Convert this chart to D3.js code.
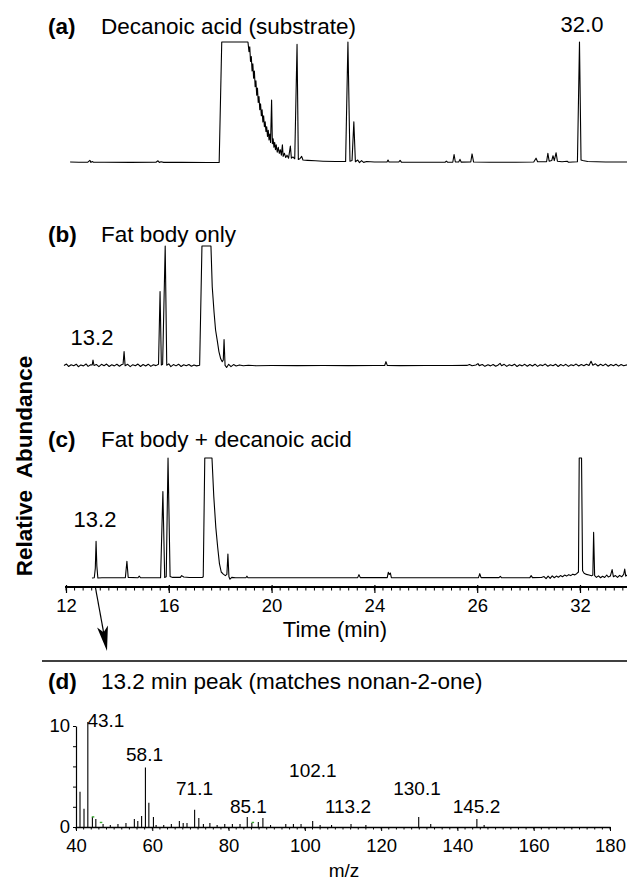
<!DOCTYPE html>
<html lang="en">
<head>
<meta charset="UTF-8">
<title>GC-MS traces: decanoic acid and fat body</title>
<script src="https://d3js.org/d3.v7.min.js"></script>
<style>
  body { margin: 0; background: #fff; }
  svg { display: block; font-family: "Liberation Sans", Arial, Helvetica, sans-serif; }
  .trace { fill: none; stroke: #000; stroke-width: 1.1; stroke-linejoin: round; }
  .title { font-size: 22.5px; }
  .tag { font-size: 22.5px; font-weight: bold; }
  .note { font-size: 22px; }
  .peak-label { font-size: 19px; }
  .axis text { font-size: 18.5px; font-family: "Liberation Sans", Arial, sans-serif; fill: #000; }
  .axis line { stroke: #000; }
</style>
</head>
<body>
<svg id="chart" width="627" height="883"></svg>
<script>
// ---- data ----
// chromatograms: [time (min), relative abundance % of the clipped top]
const traceA = [
  [12.16,0.8],[12.5,0.6],[12.85,0.7],[12.93,2.2],[12.97,0.5],[13.02,1.2],[13.07,0.6],[13.5,0.6],[14.5,0.5],
  [15.5,0.6],[15.58,1.8],[15.63,0.5],[15.7,1.0],[15.8,0.5],[16.5,0.5],[17.5,0.4],[17.96,0.4],
  [18.06,100],[19.08,100],[19.12,92],[19.15,96],[19.18,84],[19.21,88],[19.24,76],[19.27,82],[19.3,70],
  [19.33,76],[19.36,63],[19.39,68],[19.42,56],[19.45,62],[19.48,50],[19.51,55],[19.54,44],[19.57,49],
  [19.6,39],[19.63,44],[19.66,34],[19.69,39],[19.72,30],[19.75,34],[19.78,26],[19.81,30],[19.84,22],
  [19.87,27],[19.9,19],[19.93,24],[19.96,17],[20.0,52],[20.03,16],[20.06,20],[20.09,13],[20.12,17],
  [20.15,11],[20.18,15],[20.22,9],[20.26,13],[20.3,8],[20.34,11],[20.38,6.5],[20.42,15],[20.45,5.5],
  [20.5,8],[20.55,4.5],[20.6,6.5],[20.66,4],[20.73,14],[20.77,4],[20.83,5],[20.9,3.5],[20.99,98],[21.04,3],
  [21.1,3.5],[21.17,5.5],[21.22,2.5],[21.4,2.2],[21.7,1.8],[22.0,1.5],[22.5,1.2],[22.88,1.2],[22.97,100],
  [23.05,1.5],[23.13,2],[23.2,34],[23.26,1],[23.35,2.5],[23.42,0.3],[23.5,2],[23.58,0.5],[23.7,1.2],[24.0,0.8],
  [24.49,0.8],[24.53,2.5],[24.57,0.8],[24.95,0.8],[25.0,2.2],[25.05,0.7],[25.5,0.6],[26.0,0.6],[26.75,0.6],
  [26.8,1.5],[26.85,0.6],[27.05,0.6],[27.1,7],[27.15,0.8],[27.28,0.8],[27.33,3],[27.38,0.7],[27.75,0.8],
  [27.8,7.5],[27.86,0.8],[28.5,0.6],[29.5,0.6],[30.2,0.8],[30.29,4],[30.35,1],[30.7,1],[30.75,8],[30.8,1.5],
  [30.9,2],[30.95,6],[31.0,2],[31.07,8.5],[31.12,1.5],[31.3,1],[31.5,1.5],[31.55,0.6],[31.9,1],[31.98,100],
  [32.04,2.5],[32.1,2],[32.3,1.2],[33.0,0.8],[33.83,0.8]
];
const traceB = [
  [11.92,0.4],[12.02,1.6],[12.1,-0.4],[12.2,1.1],[12.3,0.2],[12.4,1.5],[12.48,-0.6],[12.58,0.9],[12.68,0.1],
  [12.78,1.7],[12.86,-0.3],[12.96,1.0],[13.02,0.8],[13.05,5],[13.09,0.4],[13.18,1.3],[13.28,-0.5],[13.38,1.4],
  [13.48,0.2],[13.58,1.6],[13.68,-0.4],[13.78,1.0],[13.88,0.1],[13.98,1.5],[14.08,-0.2],[14.17,1.2],[14.22,1.5],
  [14.26,12],[14.3,0.3],[14.4,1.4],[14.5,-0.5],[14.6,1.1],[14.7,0.2],[14.8,1.6],[14.9,-0.4],[15.0,1.2],[15.1,0.0],
  [15.2,1.5],[15.3,-0.3],[15.4,1.0],[15.5,0.3],[15.6,1.5],[15.66,62],[15.71,0.8],[15.76,1.5],[15.86,100],
  [15.92,0.6],[16.0,1.8],[16.08,-0.5],[16.18,1.2],[16.28,0.1],[16.38,1.5],[16.48,-0.4],[16.58,1.0],[16.68,0.2],
  [16.78,1.3],[16.88,-0.2],[16.98,0.9],[17.08,0.1],[17.2,0.6],[17.29,100],[17.64,100],[17.69,66],[17.76,45],
  [17.82,30],[17.88,22],[17.95,12],[18.02,6],[18.08,3.6],[18.12,5],[18.15,22],[18.19,0.5],[18.25,-1.2],
  [18.33,1.4],[18.42,-0.5],[18.52,1.2],[18.62,0.0],[18.75,0.9],[18.9,0.2],[19.1,0.6],[19.4,0.2],[20,0.4],
  [21,0.3],[22,0.4],[23,0.3],[24,0.4],[24.4,0.4],[24.45,3.6],[24.5,0.5],[25,0.3],[26,0.4],[27,0.4],[27.6,0.5],
  [27.7,1.2],[27.8,0.2],[27.95,0.9],[28.03,2.0],[28.08,0.3],[28.2,1.2],[28.3,-0.3],[28.42,1.0],[28.52,0.1],
  [28.62,1.3],[28.72,-0.2],[28.82,0.9],[28.89,2.2],[28.95,0.2],[29.05,1.4],[29.15,-0.3],[29.25,1.1],[29.35,0.2],
  [29.45,1.5],[29.55,-0.4],[29.65,1.0],[29.75,0.1],[29.85,1.4],[29.95,-0.2],[30.05,1.2],[30.15,0.0],[30.25,1.5],
  [30.35,-0.3],[30.45,1.1],[30.55,0.3],[30.65,1.6],[30.75,-0.2],[30.85,1.0],[30.95,0.2],[31.05,1.5],[31.15,-0.4],
  [31.25,1.2],[31.35,0.1],[31.45,1.4],[31.55,-0.3],[31.65,1.0],[31.75,0.3],[31.85,1.6],[31.95,0.0],[32.05,1.2],
  [32.15,0.2],[32.25,1.5],[32.35,0.4],[32.43,4],[32.5,0.6],[32.6,1.8],[32.7,0.0],[32.8,1.4],[32.9,0.3],[33.0,1.6],
  [33.1,-0.2],[33.2,1.2],[33.3,0.2],[33.4,1.5],[33.5,-0.1],[33.6,1.3],[33.7,0.2],[33.83,1.0]
];
const traceC = [
  [13.01,0],[13.1,0.2],[13.14,8],[13.17,30.5],[13.2,10],[13.24,0],[13.4,0.2],[14.0,0.2],[14.31,0.3],[14.37,14],
  [14.42,0.5],[14.8,0.2],[14.85,1.5],[14.9,0.2],[15.68,0.3],[15.77,72],[15.84,0.5],[15.9,1],[15.97,100],
  [16.05,1.2],[16.15,0.5],[16.45,0.5],[16.5,2],[16.58,0.8],[16.8,0.4],[17.3,0.4],[17.34,1],[17.4,100],
  [17.68,100],[17.75,68],[17.83,42],[17.9,26],[17.97,12],[18.04,5],[18.12,3.2],[18.2,2],[18.26,3],[18.3,20],
  [18.34,1],[18.38,-1],[18.45,0.5],[18.6,0.2],[19.0,0.2],[19.04,1.5],[19.08,0.2],[20,0.2],[22,0.2],[23.35,0.3],
  [23.4,2.8],[23.45,0.3],[24.5,0.3],[24.54,4.7],[24.58,3],[24.62,4.2],[24.66,0.3],[26,0.2],[28.05,0.3],[28.1,3.6],
  [28.15,0.3],[28.85,0.3],[28.9,1.4],[28.95,0.2],[30.05,0.3],[30.1,2],[30.15,0.3],[30.5,0.4],[30.6,1.2],
  [30.68,-0.6],[30.76,1.5],[30.84,-0.3],[30.92,1.8],[31.0,0.2],[31.08,1.6],[31.16,0.6],[31.24,2.0],[31.32,1.0],
  [31.4,2.4],[31.48,1.6],[31.56,2.8],[31.64,2.0],[31.72,3.2],[31.8,2.6],[31.88,3.8],[31.94,5],[31.97,100],
  [32.06,100],[32.1,6],[32.16,4],[32.25,3],[32.35,2.5],[32.45,1.8],[32.5,2.5],[32.53,38],[32.57,2],[32.64,0.5],
  [32.72,1.8],[32.8,0.2],[32.88,1.5],[32.96,0.4],[33.04,2.5],[33.1,0.8],[33.18,1.6],[33.25,7],[33.3,1],
  [33.38,2],[33.46,0.5],[33.54,2.2],[33.62,1],[33.7,3],[33.74,7.5],[33.78,1.5],[33.83,2.5]
];

const timeTicks = [12, 16, 20, 24, 28, 32];
const timeTickLabels = ["12", "16", "20", "24", "26", "32"];

// mass spectrum of the 13.2 min peak: [m/z, intensity]
const spectrum = [
  [41.05,3.5],[42.1,1.8],[43.1,10.4],[44.3,1.0],[45.2,0.8],[47.1,0.3],[49,0.2],[51,0.3],[53.1,0.4],[55.3,0.8],
  [56.2,0.6],[57.2,1.1],[58.2,5.9],[59.1,2.4],[60.3,1.0],[61,0.2],[63,0.2],[65,0.3],[67.1,0.6],[68.1,0.4],
  [69.1,0.4],[71.1,1.7],[72.2,0.9],[73.4,0.3],[75.1,0.4],[77,0.2],[79,0.3],[81,0.3],[83,0.3],[84.9,1.0],
  [86.1,0.4],[87.8,0.5],[89.0,0.9],[91,0.2],[95,0.3],[97,0.3],[99,0.3],[102.05,0.6],[104,0.2],[107,0.2],
  [112.1,0.3],[116,0.2],[129.85,1.0],[133,0.3],[145.1,0.8],[147,0.2]
];
const spectrumGreen = [[44.4,1.0],[46.5,0.45],[86.3,0.45]];
// peak labels: text, m/z position, height of label baseline
const peakLabels = [
  ["43.1", 43.0, 9.95, "start"], ["58.1", 57.96, 6.55, "middle"], ["71.1", 71.07, 3.15, "middle"],
  ["85.1", 85.2, 1.4, "middle"], ["102.1", 102.1, 4.95, "middle"], ["113.2", 111.3, 1.4, "middle"],
  ["130.1", 129.4, 3.15, "middle"], ["145.2", 145.0, 1.4, "middle"]
];
const mzTicks = [40, 60, 80, 100, 120, 140, 160, 180];

// ---- drawing ----
const svg = d3.select("#chart");

const xTime = d3.scaleLinear().domain([12, 32]).range([66, 580]);

const panels = [
  { tag: "(a)", title: "Decanoic acid (substrate)", trace: traceA, top: 42, base: 163, titleY: 34 },
  { tag: "(b)", title: "Fat body only", trace: traceB, top: 246, base: 366, titleY: 242 },
  { tag: "(c)", title: "Fat body + decanoic acid", trace: traceC, top: 458, base: 578, titleY: 447 }
];

panels.forEach(p => {
  const y = d3.scaleLinear().domain([0, 100]).range([p.base, p.top]);
  const line = d3.line().x(d => xTime(d[0])).y(d => y(d[1]));
  svg.append("path").datum(p.trace).attr("class", "trace").attr("d", line);
  svg.append("text").attr("class", "tag").attr("x", 48).attr("y", p.titleY).text(p.tag);
  svg.append("text").attr("class", "title").attr("x", 101).attr("y", p.titleY).text(p.title);
});

// retention time callouts
svg.append("text").attr("class", "note").attr("x", 582).attr("y", 32)
  .attr("text-anchor", "middle").text("32.0");
svg.append("text").attr("class", "note").attr("x", 92).attr("y", 345)
  .attr("text-anchor", "middle").text("13.2");
svg.append("text").attr("class", "note").attr("x", 95).attr("y", 527)
  .attr("text-anchor", "middle").text("13.2");

// time axis
const axisY = 587;
svg.append("line").attr("x1", 65).attr("x2", 627).attr("y1", axisY).attr("y2", axisY)
  .attr("stroke", "#000").attr("stroke-width", 2);
svg.append("g").attr("class", "axis")
  .selectAll("line").data(d3.range(12, 33.84, 1 / 3)).join("line")
  .attr("x1", d => xTime(d)).attr("x2", d => xTime(d))
  .attr("y1", axisY).attr("y2", axisY + 3.5).attr("stroke-width", 1);
const tAxis = svg.append("g").attr("class", "axis").attr("transform", `translate(0,${axisY})`)
  .call(d3.axisBottom(xTime).tickValues(timeTicks)
    .tickFormat((d, i) => timeTickLabels[i]).tickSize(6).tickPadding(6).tickSizeOuter(0));
tAxis.attr("font-family", null).attr("font-size", null);
tAxis.select(".domain").remove();
tAxis.selectAll(".tick line").attr("y1", -2).attr("stroke-width", 1.2);

svg.append("text").attr("x", 335).attr("y", 637).attr("text-anchor", "middle")
  .style("font-size", "22px").text("Time (min)");

// y label
svg.append("text").attr("transform", "translate(32,466) rotate(-90)")
  .attr("text-anchor", "middle").style("font-size", "22.5px").style("font-weight", "bold")
  .style("white-space", "pre").text("Relative  Abundance");

// arrow from the 13.2 min peak down to the spectrum
const ax0 = xTime(13.2) - 1.5, ay0 = axisY, ax1 = 107, ay1 = 651;
const ang = Math.atan2(ay1 - ay0, ax1 - ax0);
svg.append("line").attr("x1", ax0).attr("y1", ay0).attr("x2", ax1 - 10 * Math.cos(ang)).attr("y2", ay1 - 10 * Math.sin(ang))
  .attr("stroke", "#000").attr("stroke-width", 1.2);
svg.append("path")
  .attr("d", "M0,0 L-25,-5.5 L-19,0 L-25,5.5 Z")
  .attr("transform", `translate(${ax1},${ay1}) rotate(${ang * 180 / Math.PI})`)
  .attr("fill", "#000");

// separator
svg.append("line").attr("x1", 42).attr("x2", 627).attr("y1", 661).attr("y2", 661)
  .attr("stroke", "#000").attr("stroke-width", 1.6);

// panel (d)
svg.append("text").attr("class", "tag").attr("x", 48).attr("y", 689).text("(d)");
svg.append("text").attr("class", "title").attr("x", 101).attr("y", 689)
  .text("13.2 min peak (matches nonan-2-one)");

const xMz = d3.scaleLinear().domain([40, 180]).range([76, 610]);
const yInt = d3.scaleLinear().domain([0, 10]).range([827, 726]);

// minor ticks on m/z axis
svg.append("g").selectAll("line").data(d3.range(40, 181, 2)).join("line")
  .attr("x1", d => xMz(d)).attr("x2", d => xMz(d))
  .attr("y1", yInt(0)).attr("y2", yInt(0) + 2.5).attr("stroke", "#000").attr("stroke-width", 1);

const mzAxis = svg.append("g").attr("class", "axis").attr("transform", `translate(0,${yInt(0)})`)
  .call(d3.axisBottom(xMz).tickValues(mzTicks).tickFormat(d3.format("d"))
    .tickSize(4).tickPadding(8).tickSizeOuter(0));
mzAxis.attr("font-family", null).attr("font-size", null);
mzAxis.select(".domain").attr("stroke-width", 1.5);

const intAxis = svg.append("g").attr("class", "axis").attr("transform", `translate(${xMz(40)},0)`)
  .call(d3.axisLeft(yInt).tickValues([0, 2, 4, 6, 8, 10])
    .tickFormat(d => (d === 0 || d === 10) ? d : "").tickSize(3).tickPadding(3).tickSizeOuter(0));
intAxis.attr("font-family", null).attr("font-size", null);
intAxis.select(".domain").attr("stroke-width", 1.2);

svg.append("g").selectAll("line").data(spectrum).join("line")
  .attr("x1", d => xMz(d[0])).attr("x2", d => xMz(d[0]))
  .attr("y1", yInt(0)).attr("y2", d => yInt(d[1]))
  .attr("stroke", "#000").attr("stroke-width", 1.1);

svg.append("g").selectAll("line").data(spectrumGreen).join("line")
  .attr("x1", d => xMz(d[0]) - 1).attr("x2", d => xMz(d[0]) + 1.5)
  .attr("y1", d => yInt(d[1])).attr("y2", d => yInt(d[1]))
  .attr("stroke", "#3aa832").attr("stroke-width", 1.4);

svg.append("g").selectAll("text").data(peakLabels).join("text")
  .attr("class", "peak-label")
  .attr("x", d => xMz(d[1])).attr("y", d => yInt(d[2]))
  .attr("text-anchor", d => d[3]).text(d => d[0]);

svg.append("text").attr("x", 344).attr("y", 877).attr("text-anchor", "middle")
  .style("font-size", "19px").text("m/z");
</script>
</body>
</html>
